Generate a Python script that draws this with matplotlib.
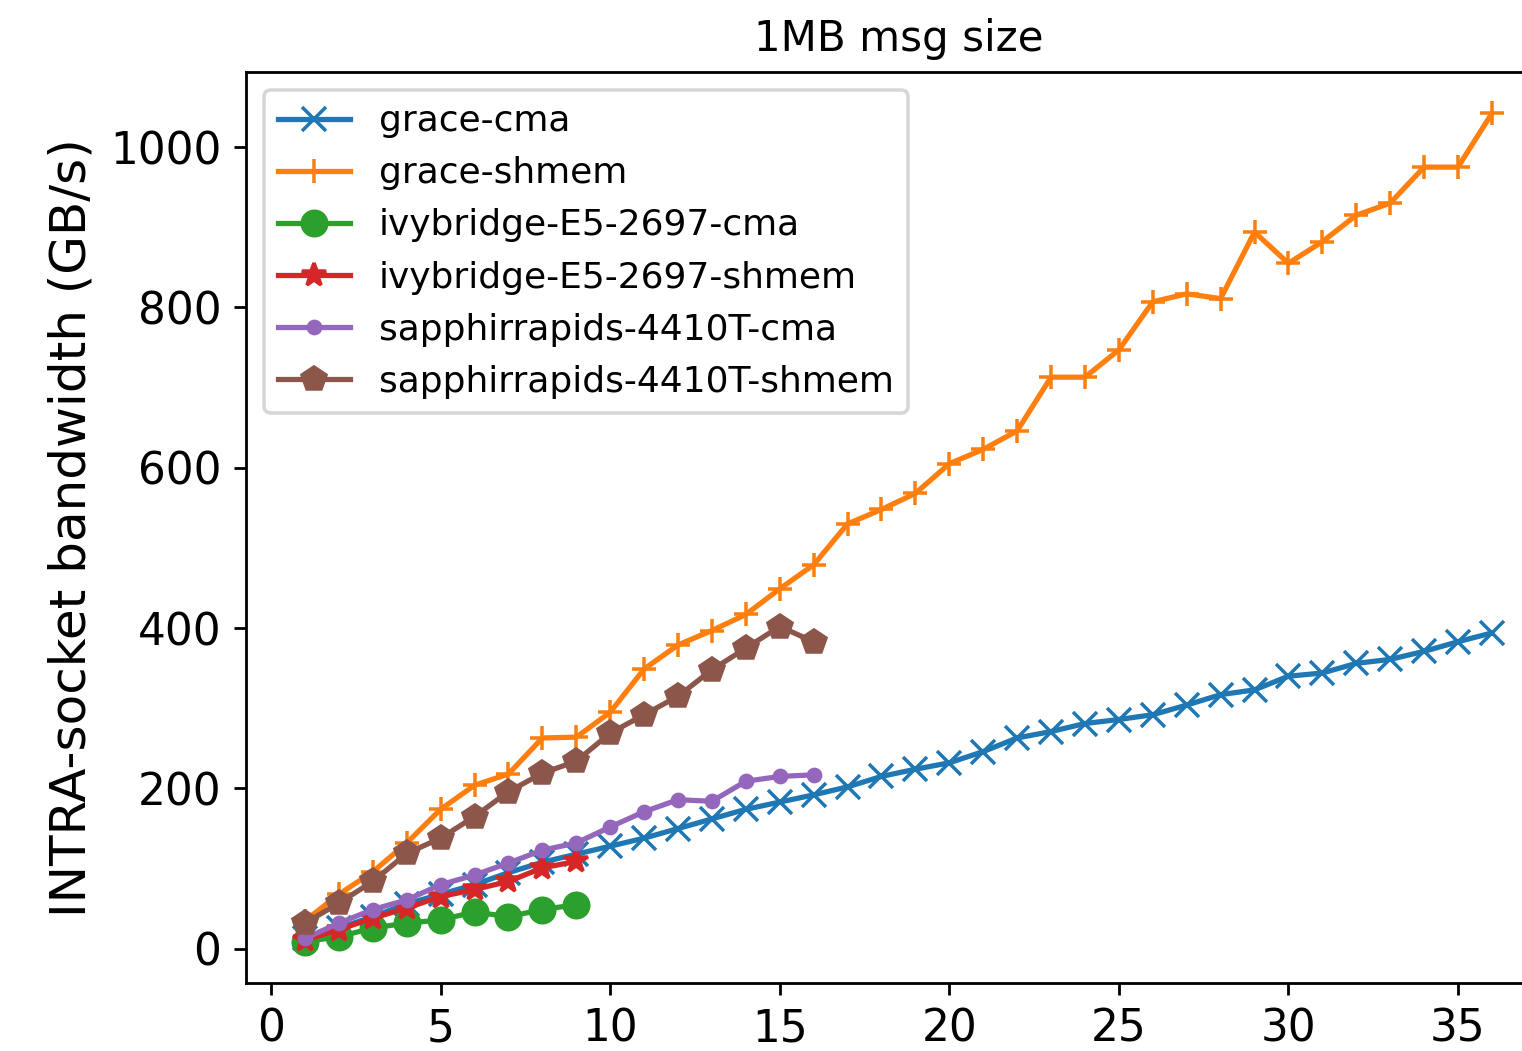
import matplotlib.pyplot as plt

# 数据
cores_36 = list(range(1, 37))
cores_16 = list(range(1, 17))
cores_9 = list(range(1, 10))

grace_cma = [13, 26, 40, 56, 68, 80, 95, 108, 118, 128,
             138, 150, 162, 174, 183, 192, 202, 215, 224, 232,
             246, 263, 271, 281, 286, 292, 304, 317, 323, 340,
             344, 356, 361, 371, 383, 394]
grace_shmem = [35, 68, 96, 132, 174, 204, 218, 263, 264, 295,
               349, 379, 397, 417, 449, 479, 530, 548, 568, 605,
               623, 646, 713, 713, 747, 807, 817, 811, 894, 855,
               882, 915, 930, 975, 975, 1042]
ivy_cma = [9, 15, 26, 32, 36, 46, 40, 49, 55]
ivy_shmem = [11, 24, 38, 51, 65, 74, 84, 101, 109]
spr_cma = [13, 32, 49, 61, 80, 92, 107, 123, 132,
           152, 171, 186, 184, 209, 215, 217]
spr_shmem = [32, 57, 84, 119, 138, 165, 196, 219, 234,
             269, 292, 315, 348, 375, 402, 383]

# ========== 画图 ==========
DPI = 252
fig = plt.figure(figsize=(1522 / DPI, 1051 / DPI), dpi=DPI)
ax = fig.add_axes([0.1614, 0.0647, 0.8578, 0.8668])

ms = 7
ax.plot(cores_36, grace_cma, marker='x', ms=ms, label='grace-cma')
ax.plot(cores_36, grace_shmem, marker='+', ms=ms, label='grace-shmem')
ax.plot(cores_9, ivy_cma, marker='o', ms=ms, label='ivybridge-E5-2697-cma')
ax.plot(cores_9, ivy_shmem, marker='*', ms=ms, label='ivybridge-E5-2697-shmem')
ax.plot(cores_16, spr_cma, marker='.', ms=ms, label='sapphirrapids-4410T-cma')
ax.plot(cores_16, spr_shmem, marker='p', ms=ms, label='sapphirrapids-4410T-shmem')

ax.set_title('1MB msg size', fontsize=12)
ax.set_ylabel('INTRA-socket bandwidth (GB/s)', fontsize=14.3)
ax.tick_params(labelsize=12.5)
ax.legend(loc='upper left', fontsize=10.3)

fig.savefig('out.png', dpi=DPI)
